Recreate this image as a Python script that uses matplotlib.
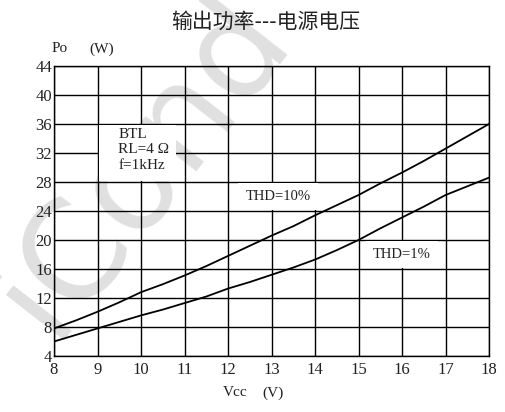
import matplotlib
matplotlib.use('Agg')
import matplotlib.pyplot as plt
from matplotlib.patches import Rectangle

plt.rcParams['font.family'] = ['Liberation Serif', 'Noto Sans CJK SC', 'DejaVu Sans']

# curve data
vcc = [8, 8.5, 9, 9.5, 10, 10.5, 11, 11.5, 12, 12.5, 13, 13.5, 14, 14.5, 15, 15.5, 16, 16.5, 17, 17.5, 18]
thd10 = [7.8, 8.9, 10.1, 11.4, 12.8, 13.9, 15.1, 16.4, 17.8, 19.2, 20.6, 21.9, 23.4, 24.8, 26.2, 27.8, 29.3, 30.9, 32.6, 34.3, 36.0]
thd1 = [6.0, 6.9, 7.8, 8.7, 9.6, 10.4, 11.3, 12.2, 13.3, 14.2, 15.2, 16.2, 17.3, 18.6, 20.0, 21.6, 23.1, 24.6, 26.2, 27.4, 28.6]

xticks = list(range(8, 19))
yticks = list(range(4, 45, 4))

fig = plt.figure(figsize=(5.06, 4.12), dpi=100)
ax = fig.add_axes([54/506, 1-356/412, (489-54)/506, (356-66)/412])
ax.set_facecolor('none')

# faint watermark behind everything
fig.text(0.28, 0.60, 'iCond', fontsize=98, color='#e0e0e0', rotation=52,
         ha='center', va='center', family='DejaVu Sans', zorder=-5)

ax.plot(vcc, thd10, color='black', lw=1.3, zorder=3)
ax.plot(vcc, thd1, color='black', lw=1.3, zorder=3)

ax.set_xlim(8, 18)
ax.set_ylim(4, 44)
ax.set_xticks(xticks)
ax.set_yticks(yticks)
ax.grid(True, color='black', lw=1.0)
ax.set_axisbelow(True)
ax.tick_params(length=0, labelsize=12, colors='#222222')
ax.tick_params(axis='x', pad=4)
ax.tick_params(axis='y', pad=1.5)
for s in ax.spines.values():
    s.set_linewidth(1.0)

# white panel behind the condition text
ax.add_patch(Rectangle((9.04, 28.12), 1.76, 7.76, facecolor='white', edgecolor='none', zorder=1.5))
ax.text(9.48, 35.5, 'BTL\nRL=4 Ω\nf=1kHz', fontsize=11, va='top', ha='left',
        linespacing=1.25, color='#222222', zorder=2)

box = dict(facecolor='white', edgecolor='none', pad=5)
ax.text(13.15, 26.0, 'THD=10%', fontsize=10.5, ha='center', va='center', color='#222222', bbox=box, zorder=2)
ax.text(16.0, 18.0, 'THD=1%', fontsize=10.5, ha='center', va='center', color='#222222', bbox=box, zorder=2)

fig.text(266/506, 1-22/412, '输出功率---电源电压', fontsize=15, ha='center', va='center',
         color='#222222', family=['Noto Sans CJK SC', 'DejaVu Sans'])
fig.text(52/506, 1-49/412, 'Po', fontsize=11, ha='left', va='center', color='#222222')
fig.text(89/506, 1-49/412, '(W)', fontsize=11, ha='left', va='center', color='#222222')
fig.text(223/506, 1-393/412, 'Vcc', fontsize=11, ha='left', va='center', color='#222222')
fig.text(262/506, 1-393/412, '(V)', fontsize=11, ha='left', va='center', color='#222222')

fig.savefig('out.png', dpi=100)
